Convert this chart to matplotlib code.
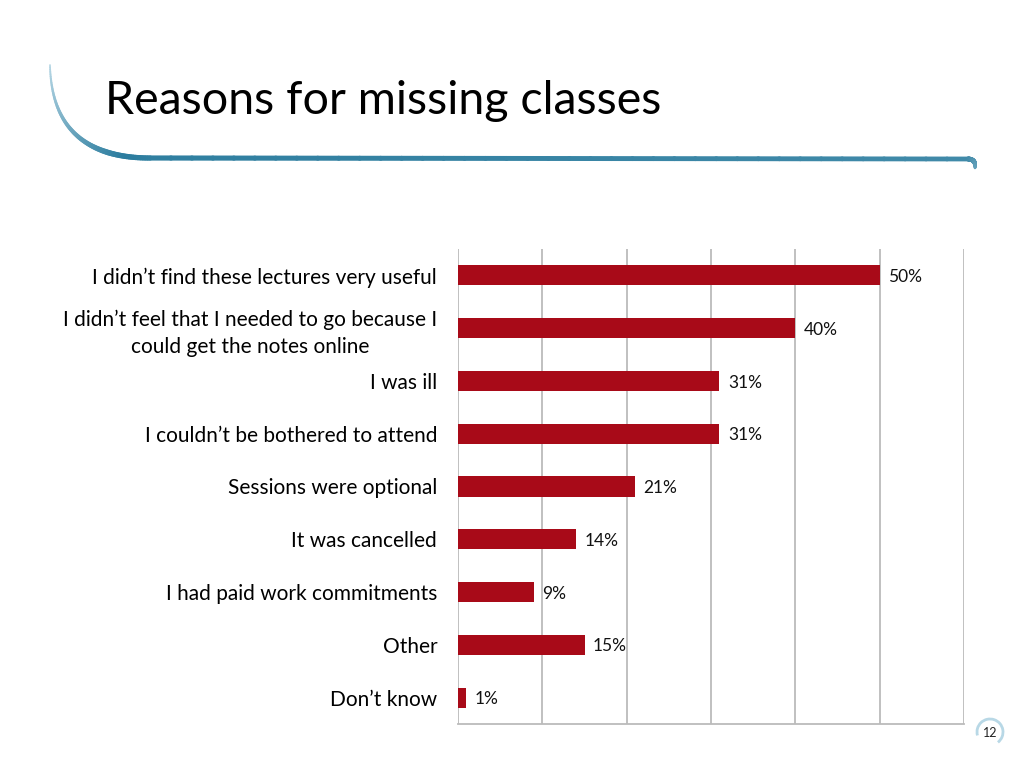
import numpy as np
import matplotlib
matplotlib.use("Agg")
import matplotlib.pyplot as plt
from matplotlib.collections import LineCollection
from matplotlib.patches import Arc
from matplotlib.colors import to_rgb

plt.rcParams['font.family'] = ['Lato', 'DejaVu Sans']

# Datos
reasons = [
    "I didn\u2019t find these lectures very useful",
    "I didn\u2019t feel that I needed to go because I\ncould get the notes online",
    "I was ill",
    "I couldn\u2019t be bothered to attend",
    "Sessions were optional",
    "It was cancelled",
    "I had paid work commitments",
    "Other",
    "Don\u2019t know",
]
percents = [50, 40, 31, 31, 21, 14, 9, 15, 1]

bar_color = '#A80A18'
W, H = 1024, 768

fig = plt.figure(figsize=(10.24, 7.68), dpi=100)
fig.patch.set_facecolor('white')

# Grafico de barras
ax = fig.add_axes([458 / W, 1 - 724 / H, (964 - 458) / W, (724 - 249) / H])
y = np.arange(len(reasons))
ax.barh(y, percents, height=0.38, color=bar_color, zorder=3)
ax.set_xlim(0, 60)
ax.set_ylim(len(reasons) - 0.5, -0.5)
ax.set_xticks(np.arange(0, 61, 10))
ax.xaxis.grid(True, color='#BBBBBB', linewidth=1.3, zorder=0)
ax.tick_params(axis='x', length=0, labelbottom=False)
ax.tick_params(axis='y', length=0, pad=15, labelsize=15)
ax.set_yticks(y)
ax.set_yticklabels(reasons, ha='right', multialignment='center', linespacing=1.4)
for s in ['top', 'right', 'left']:
    ax.spines[s].set_visible(False)
ax.spines['bottom'].set_color('#BBBBBB')
ax.spines['bottom'].set_linewidth(1.3)

for yi, v in zip(y, percents):
    ax.text(v + 1.0, yi + 0.03, f"{v}%", va='center', ha='left', fontsize=12.5, color='#111111')

# Titulo
fig.text(105 / W, 1 - 101 / H, "Reasons for missing classes", fontsize=33.5,
         va='center', ha='left', color='black')

# Linea decorativa (curva + horizontal)
t = np.linspace(0, 1, 80)
p0, p1, p2 = np.array([50, 65]), np.array([52, 158]), np.array([150, 158])
curve = ((1 - t) ** 2)[:, None] * p0 + (2 * (1 - t) * t)[:, None] * p1 + (t ** 2)[:, None] * p2
horiz = np.column_stack([np.linspace(150, 968, 40), np.linspace(158, 159, 40)])
q0, q1, q2 = np.array([968, 159]), np.array([976, 159]), np.array([975, 168])
tip = ((1 - t) ** 2)[:, None] * q0 + (2 * (1 - t) * t)[:, None] * q1 + (t ** 2)[:, None] * q2
pts = np.vstack([curve, horiz[1:], tip[1:]])
segs = [[(a[0] / W, 1 - a[1] / H), (b[0] / W, 1 - b[1] / H)] for a, b in zip(pts[:-1], pts[1:])]
n = len(segs)
s = np.linspace(0, 1, n)
widths = np.interp(s, [0, 0.3, 0.45, 0.85, 1], [1.2, 4.0, 3.6, 3.2, 1.8])
c_light = np.array(to_rgb('#B5D6E4'))
c_dark = np.array(to_rgb('#2B7C9E'))
mix = np.interp(s, [0, 0.35, 1], [0, 1, 0.6])
colors = [tuple(c_light * (1 - m) + c_dark * m) for m in mix]
lc = LineCollection(segs, linewidths=widths, colors=colors, transform=fig.transFigure,
                    capstyle='round', antialiased=True)
fig.add_artist(lc)

# Numero de pagina
arc = Arc((990 / W, 1 - 732 / H), 26 / W, 26 / H, angle=0, theta1=-60, theta2=200,
          transform=fig.transFigure, edgecolor='#B8D8E6', linewidth=2)
fig.add_artist(arc)
fig.text(990 / W, 1 - 733 / H, "12", fontsize=9, ha='center', va='center', color='#222222')

fig.savefig("out.png", dpi=100)
